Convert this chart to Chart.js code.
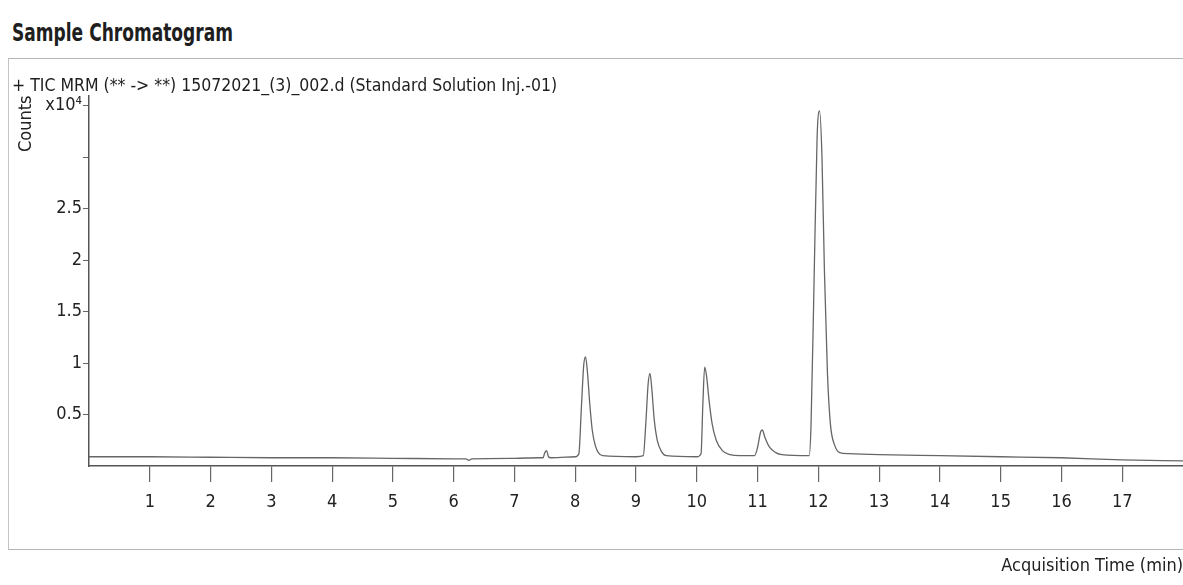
<!DOCTYPE html>
<html>
<head>
<meta charset="utf-8">
<script src="https://cdn.jsdelivr.net/npm/chart.js@4.4.1/dist/chart.umd.min.js"></script>
<style>
  body { margin: 0; background: #fff; width: 1183px; height: 585px; overflow: hidden; position: relative; }
  .heading {
    position: absolute; left: 12px; top: 21px;
    font: bold 24px/24px "DejaVu Sans Condensed", sans-serif;
    color: #1e1e1e;
    transform: scaleX(0.79);
    transform-origin: left top;
  }
  .frame {
    position: absolute; left: 8px; top: 58px; width: 1190px; height: 490px;
    border-top: 1px solid #b4b4b4; border-left: 1px solid #c4c4c4; border-bottom: 1px solid #b4b4b4;
  }
  #chart { position: absolute; left: 0; top: 0; }
</style>
</head>
<body>
<div class="heading">Sample Chromatogram</div>
<div class="frame"></div>
<canvas id="chart" width="1183" height="585"></canvas>
<script>
// trace: acquisition time (min) and counts (x10^4)
const times = [
  0, 0.5, 1, 2, 3, 4, 5, 6, 6.2, 6.25, 6.3, 7, 7.4, 7.47, 7.5, 7.53, 7.56, 7.6,
  8.0, 8.06, 8.10, 8.14, 8.17, 8.20, 8.24, 8.28, 8.33, 8.38, 8.45,
  9.0, 9.12, 9.16, 9.20, 9.23, 9.26, 9.30, 9.35, 9.42, 9.50,
  10.0, 10.07, 10.10, 10.13, 10.16, 10.20, 10.25, 10.32, 10.42, 10.55, 10.70,
  10.95, 11.0, 11.05, 11.08, 11.12, 11.20, 11.30, 11.40,
  11.85, 11.88, 11.93, 11.98, 12.02, 12.06, 12.10, 12.15, 12.20, 12.27, 12.35, 12.5,
  13, 14, 15, 16, 17, 18
];
const counts = [
  0.09, 0.09, 0.09, 0.085, 0.08, 0.08, 0.075, 0.07, 0.07, 0.055, 0.07, 0.075, 0.08, 0.08, 0.13, 0.15, 0.09, 0.08,
  0.09, 0.12, 0.55, 0.98, 1.06, 0.92, 0.60, 0.35, 0.20, 0.13, 0.10,
  0.09, 0.10, 0.40, 0.80, 0.90, 0.75, 0.45, 0.25, 0.14, 0.10,
  0.09, 0.12, 0.60, 0.96, 0.88, 0.65, 0.42, 0.25, 0.15, 0.11, 0.10,
  0.10, 0.18, 0.33, 0.35, 0.28, 0.18, 0.13, 0.11,
  0.10, 0.40, 1.80, 3.20, 3.45, 3.00, 1.90, 0.90, 0.40, 0.20, 0.13, 0.12,
  0.11, 0.10, 0.09, 0.08, 0.06, 0.05
];

const xTickValues = [1, 2, 3, 4, 5, 6, 7, 8, 9, 10, 11, 12, 13, 14, 15, 16, 17];
const yTickValues = [0.5, 1, 1.5, 2, 2.5, 3, 3.5];
const yTickLabels = ['0.5', '1', '1.5', '2', '2.5', '', 'x10\u2074'];

const subtitle = '+ TIC MRM (** -> **) 15072021_(3)_002.d (Standard Solution Inj.-01)';

Chart.defaults.font.family = '"DejaVu Sans Condensed", sans-serif';
Chart.defaults.color = '#222';

const ctx = document.getElementById('chart').getContext('2d');
new Chart(ctx, {
  type: 'line',
  data: {
    datasets: [{
      data: times.map((t, i) => ({ x: t, y: counts[i] })),
      borderColor: '#666',
      borderWidth: 1.3,
      pointRadius: 0,
      cubicInterpolationMode: 'monotone',
      fill: false,
    }],
  },
  options: {
    responsive: false,
    animation: false,
    layout: { padding: { top: 78, left: 12, right: 0, bottom: 2 } },
    plugins: {
      legend: { display: false },
      tooltip: { enabled: false },
      title: {
        display: true,
        text: subtitle,
        align: 'start',
        color: '#1e1e1e',
        font: { size: 17.5, weight: 'normal', lineHeight: 1 },
        padding: { top: 0, bottom: 0 },
      },
    },
    scales: {
      x: {
        type: 'linear',
        min: 0,
        max: 18,
        afterBuildTicks: (scale) => { scale.ticks = xTickValues.map((v) => ({ value: v })); },
        afterFit: (scale) => { scale.height = 117; },
        border: { color: '#555', width: 1.5 },
        grid: { drawOnChartArea: false, tickLength: 16, color: '#666', lineWidth: 1.2 },
        ticks: { font: { size: 18 }, padding: 10, maxRotation: 0, autoSkip: false },
        title: {
          display: true,
          text: 'Acquisition Time (min)',
          align: 'end',
          font: { size: 18 },
          padding: { top: 0, bottom: 6 },
        },
      },
      y: {
        min: 0,
        max: 3.6,
        afterBuildTicks: (scale) => { scale.ticks = yTickValues.map((v) => ({ value: v })); },
        afterFit: (scale) => { scale.width = 77; },
        border: { color: '#555', width: 1.5 },
        grid: { drawOnChartArea: false, tickLength: 6, color: '#666' },
        ticks: {
          font: { size: 18 },
          padding: 1,
          callback: (value) => yTickLabels[yTickValues.indexOf(value)],
        },
        title: {
          display: true,
          text: 'Counts',
          align: 'end',
          font: { size: 18 },
          padding: { top: 4, bottom: 0 },
        },
      },
    },
  },
});
</script>
</body>
</html>
